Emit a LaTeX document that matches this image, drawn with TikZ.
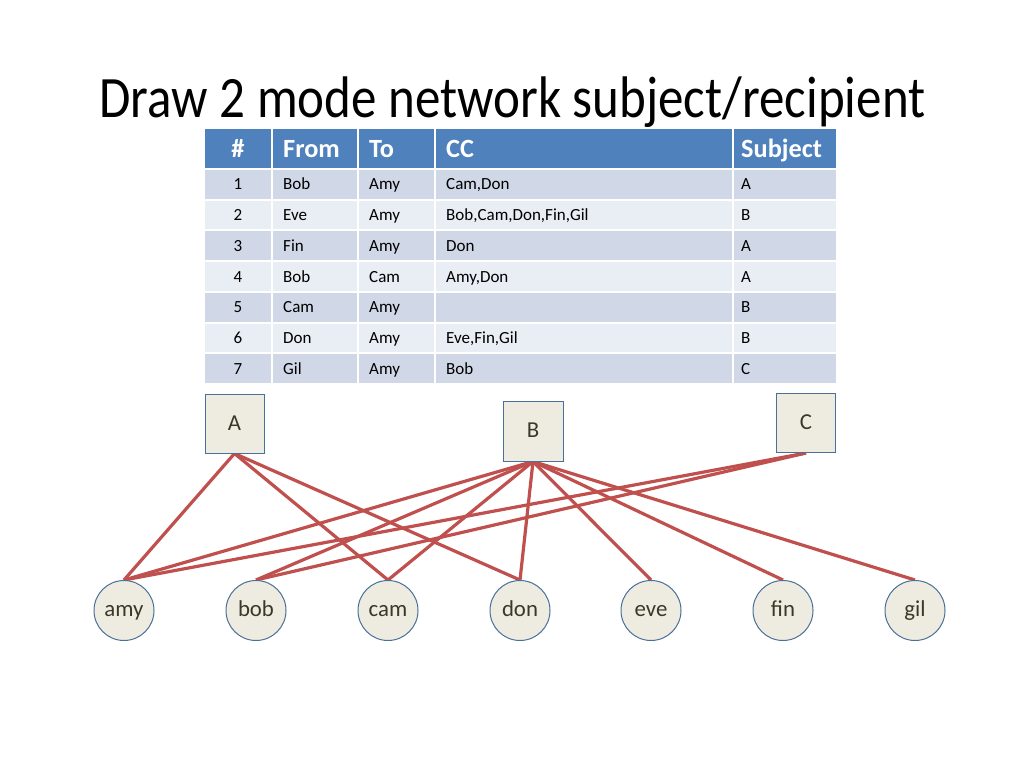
\documentclass[tikz,border=0pt]{standalone}
\usepackage{fontspec}
\setmainfont{Carlito}
\usetikzlibrary{backgrounds}
\definecolor{hdr}{HTML}{4F81BD}
\definecolor{rowa}{HTML}{D0D8E8}
\definecolor{rowb}{HTML}{E9EDF4}
\definecolor{shp}{HTML}{EEECE1}
\definecolor{shpline}{HTML}{4A6F98}
\definecolor{edgecol}{HTML}{C0504D}
\definecolor{shptext}{HTML}{3B3828}
\begin{document}
\begin{tikzpicture}[x=1pt,y=-1pt,
  cell/.style={inner sep=0, anchor=base west, font=\fontsize{17}{20}\selectfont},
  cellc/.style={inner sep=0, anchor=base, font=\fontsize{17}{20}\selectfont},
  hcell/.style={inner sep=0, anchor=base west, text=white, font=\bfseries\fontsize{26.3}{30}\selectfont},
  hcellc/.style={inner sep=0, anchor=base, text=white, font=\bfseries\fontsize{26.3}{30}\selectfont},
  subj/.style={draw=shpline, line width=1pt, fill=shp, minimum width=59, minimum height=59, inner sep=0, text height=13, text depth=0, text=shptext, font=\fontsize{22.8}{26}\selectfont},
  person/.style={circle, draw=shpline, line width=1pt, fill=shp, minimum size=60, inner sep=0, text height=12.6, text depth=0, text=shptext, font=\fontsize{22.8}{26}\selectfont},
  link/.style={draw=edgecol, line width=3.2pt}]
\useasboundingbox (0,0) rectangle (1024,768);
% title
\node[anchor=base, inner sep=0, font=\fontsize{51}{60}\selectfont] (title) at (512.5,117.5) {\scalebox{1}[1.15]{Draw 2 mode network subject/recipient}};
% header
\foreach \xa/\xb in {204/272,272/358,358/435,435/733,733/837}
  \fill[hdr] (\xa+1,129) rectangle (\xb-1,168);
\node[hcellc] (hnum) at (238,157) {\#};
\node[hcell] (hfrom) at (283,157) {From};
\node[hcell] (hto) at (369,157) {To};
\node[hcell] (hcc) at (446,157) {CC};
\node[hcell] (hsubj) at (741,157) {Subject};
% rows
\foreach \i/\c/\f/\t/\cc/\s in {1/rowa/Bob/Amy/{Cam,Don}/A,
  2/rowb/Eve/Amy/{Bob,Cam,Don,Fin,Gil}/B,
  3/rowa/Fin/Amy/Don/A,
  4/rowb/Bob/Cam/{Amy,Don}/A,
  5/rowa/Cam/Amy/{}/B,
  6/rowb/Don/Amy/{Eve,Fin,Gil}/B,
  7/rowa/Gil/Amy/Bob/C}{
  \pgfmathsetmacro{\ytop}{169+(\i-1)*30.714}
  \pgfmathsetmacro{\ybot}{\ytop+30.714}
  \pgfmathsetmacro{\ybase}{\ytop+15.357+5.5}
  \foreach \xa/\xb in {204/272,272/358,358/435,435/733,733/837}
    \fill[\c] (\xa+1,\ytop+1) rectangle (\xb-1,\ybot-1);
  \node[cellc] (n\i) at (238,\ybase) {\i};
  \node[cell] (f\i) at (283,\ybase) {\f};
  \node[cell] (t\i) at (369,\ybase) {\t};
  \node[cell] (c\i) at (446,\ybase) {\cc};
  \node[cell] (s\i) at (741,\ybase) {\s};
}
% subject boxes
\node[subj] (A) at (234.5,423.5) {A};
\node[subj, minimum width=60, minimum height=60] (B) at (533,431) {B};
\node[subj] (C) at (806,423) {C};
% people
\node[person] (amy) at (124,610.5) {amy};
\node[person] (bob) at (256,610.5) {bob};
\node[person] (cam) at (388,610.5) {cam};
\node[person] (don) at (520,610.5) {don};
\node[person] (eve) at (651,610.5) {eve};
\node[person] (fin) at (783,610.5) {fin};
\node[person] (gil) at (915,610.5) {gil};
\begin{pgfonlayer}{background}
\foreach \u/\v in {A/amy,A/cam,A/don,B/amy,B/bob,B/cam,B/don,B/eve,B/fin,B/gil,C/amy,C/bob}
  \draw[link] (\u.south) -- (\v.north);
\end{pgfonlayer}
\end{tikzpicture}
\end{document}
